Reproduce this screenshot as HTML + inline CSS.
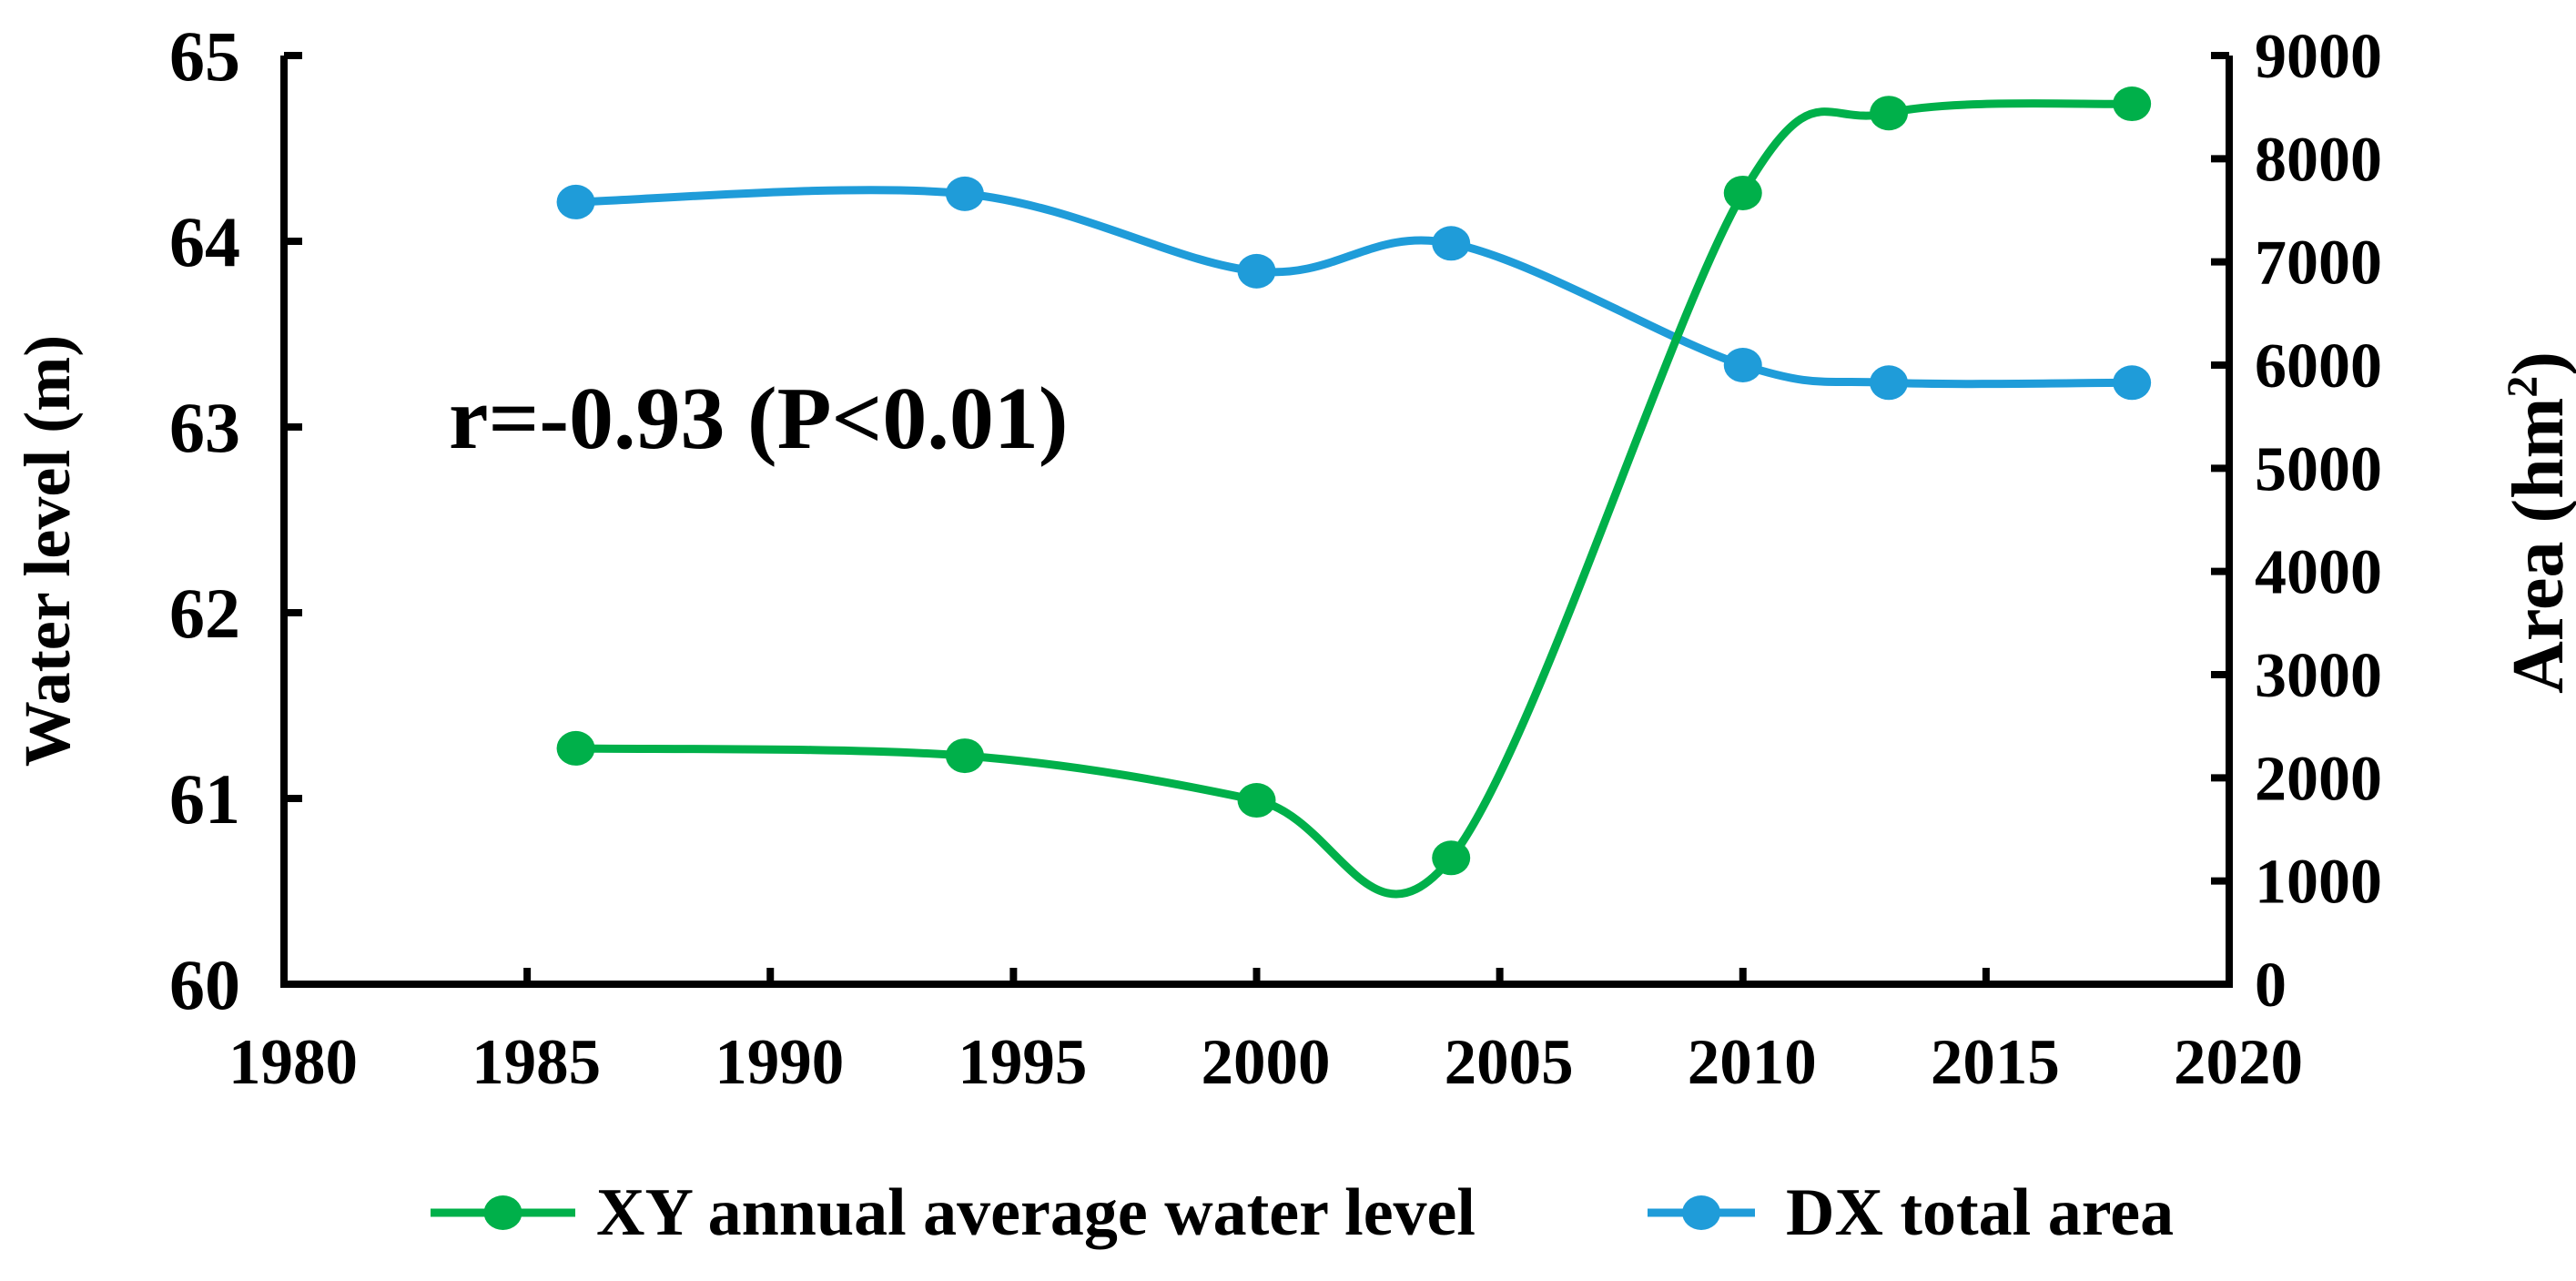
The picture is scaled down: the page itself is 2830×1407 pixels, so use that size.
<!DOCTYPE html>
<html><head><meta charset="utf-8"><style>
html,body{margin:0;padding:0;background:#fff;}
svg text{font-family:"Liberation Serif",serif;font-weight:bold;fill:#000;}
</style></head><body>
<svg id="chart" width="2830" height="1402" viewBox="0 0 2830 1402" xmlns="http://www.w3.org/2000/svg">
<g id="axes"></g><g id="series"></g><g id="legend"></g>
</svg>
<script>
const years = [1986, 1994, 2000, 2004, 2010, 2013, 2018];
const waterLevel = [61.27, 61.23, 60.99, 60.68, 64.26, 64.69, 64.74];
const area = [7580, 7660, 6910, 7180, 6000, 5830, 5830];
const xTicks = [1980, 1985, 1990, 1995, 2000, 2005, 2010, 2015, 2020];
const yLeftTicks = [60, 61, 62, 63, 64, 65];
const yRightTicks = [0, 1000, 2000, 3000, 4000, 5000, 6000, 7000, 8000, 9000];

const L = 312, R = 2449, T = 61, B = 1081;
const xs = v => L + (v - 1980) / 40 * (R - L);
const yl = v => B - (v - 60) / 5 * (B - T);
const yr = v => B - v / 9000 * (B - T);
const NS = 'http://www.w3.org/2000/svg';
function mk(tag, attrs, parent, txt) {
  const e = document.createElementNS(NS, tag);
  for (const k in attrs) e.setAttribute(k, attrs[k]);
  if (txt !== undefined) e.textContent = txt;
  parent.appendChild(e);
  return e;
}
const ax = document.getElementById('axes');
let e;
e = mk('path', {d:`M${L},${T} V${B} H${R} V${T}`, fill:'none', stroke:'#000', 'stroke-width':8}, ax);


yLeftTicks.forEach(v => {
  e = mk('line', {x1:L, x2:L+20, y1:yl(v), y2:yl(v), stroke:'#000', 'stroke-width':8}, ax);
  
  
  e = mk('text', {x:264, y:yl(v)+27, 'text-anchor':'end', 'font-size':78}, ax, v);
  
  
});
yRightTicks.forEach(v => {
  e = mk('line', {x1:R-20, x2:R, y1:yr(v), y2:yr(v), stroke:'#000', 'stroke-width':8}, ax);
  
  
  e = mk('text', {x:2477, y:yr(v)+24, 'text-anchor':'start', 'font-size':70}, ax, v);
  
  
});
xTicks.forEach(v => {
  e = mk('line', {x1:xs(v), x2:xs(v), y1:B-18, y2:B, stroke:'#000', 'stroke-width':8}, ax);
  
  
  e = mk('text', {x:xs(v)+10, y:1190, 'text-anchor':'middle', 'font-size':71}, ax, v);
  
  
});
e = mk('text', {x:0, y:0, 'text-anchor':'middle', 'font-size':72, transform:'translate(76,605) rotate(-90)'}, ax, 'Water level (m)');


e = mk('text', {x:0, y:0, 'text-anchor':'middle', 'font-size':80, transform:'translate(2815,574) rotate(-90)'}, ax);


e.innerHTML = 'Area (hm<tspan dy="-28" font-size="48">2</tspan><tspan dy="28">)</tspan>';
e = mk('text', {x:493, y:492, 'font-size':98}, ax, 'r=-0.93 (P<0.01)');



function smooth(pts) {
  let d = `M${pts[0][0]},${pts[0][1]}`;
  const t = 1/6;
  for (let i = 0; i < pts.length - 1; i++) {
    const p0 = pts[Math.max(i-1,0)], p1 = pts[i], p2 = pts[i+1], p3 = pts[Math.min(i+2, pts.length-1)];
    const c1 = [p1[0] + (p2[0]-p0[0])*t, p1[1] + (p2[1]-p0[1])*t];
    const c2 = [p2[0] - (p3[0]-p1[0])*t, p2[1] - (p3[1]-p1[1])*t];
    d += ` C${c1[0]},${c1[1]} ${c2[0]},${c2[1]} ${p2[0]},${p2[1]}`;
  }
  return d;
}
const sg = document.getElementById('series');
function drawSeries(vals, yf, color, name) {
  const pts = years.map((y, i) => [xs(y), yf(vals[i])]);
  e = mk('path', {d:smooth(pts), fill:'none', stroke:color, 'stroke-width':9}, sg);
  
  
  pts.forEach(p => {
    e = mk('ellipse', {cx:p[0], cy:p[1], rx:21, ry:19, fill:color}, sg);
    
    
  });
}
drawSeries(area, yr, '#1f9cd9', 'dx-area');
drawSeries(waterLevel, yl, '#00b04a', 'xy-water-level');

const lg = document.getElementById('legend');
function legendEntry(x1, x2, tx, color, label, name) {
  const g = mk('g', {}, lg);
  
  
  mk('line', {x1:x1, x2:x2, y1:1332, y2:1332, stroke:color, 'stroke-width':9}, g);
  mk('ellipse', {cx:(x1+x2)/2, cy:1332, rx:21, ry:19, fill:color}, g);
  mk('text', {x:tx, y:1356, 'font-size':74}, g, label);
}
legendEntry(473, 632, 655, '#00b04a', 'XY annual average water level', 'legend-entry-water-level');
legendEntry(1810, 1928, 1962, '#1f9cd9', 'DX total area', 'legend-entry-area');
</script>
</body></html>
